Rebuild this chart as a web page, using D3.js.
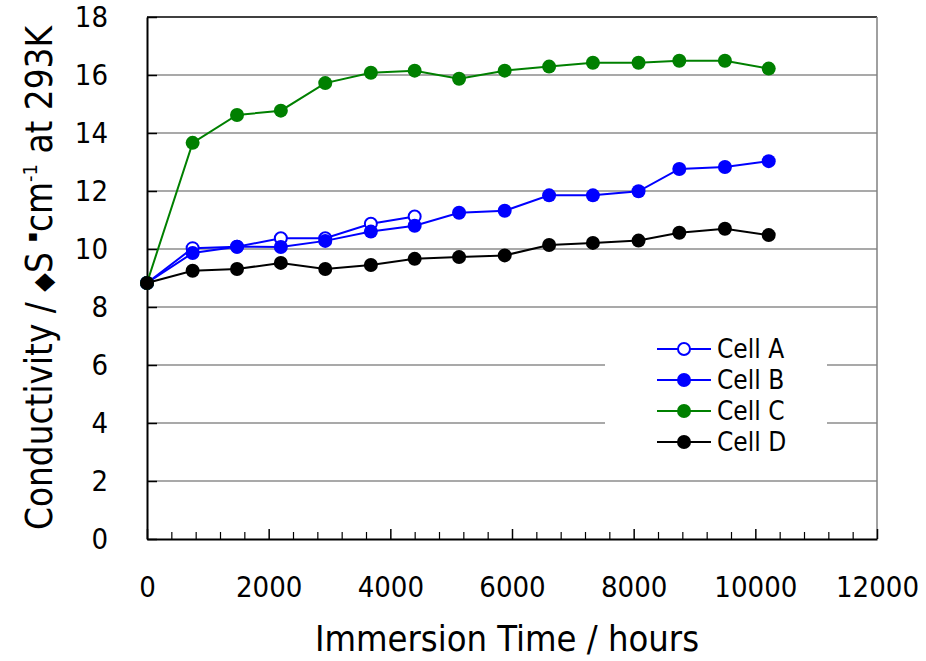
<!DOCTYPE html>
<html>
<head>
<meta charset="utf-8">
<script src="https://cdn.jsdelivr.net/npm/d3@7"></script>
<style>
  body { margin: 0; background: #fff; }
  #chart text { font-family: "DejaVu Sans Condensed", "DejaVu Sans", Verdana, sans-serif; font-stretch: condensed; fill: #000; }
</style>
</head>
<body>
<div id="chart"></div>
<script>
// immersion time (hours) for each measurement
const hours = [0, 750, 1480, 2200, 2930, 3680, 4400, 5130, 5880, 6610, 7330, 8080, 8750, 9500, 10220];

// conductivity values
const cellA = [8.83, 10.03, 10.08, 10.37, 10.37, 10.87, 11.12];
const cellB = [8.83, 9.86, 10.08, 10.07, 10.28, 10.6, 10.8, 11.25, 11.32, 11.85, 11.85, 11.99, 12.76, 12.83, 13.03];
const cellC = [8.83, 13.66, 14.62, 14.77, 15.72, 16.08, 16.15, 15.87, 16.15, 16.29, 16.42, 16.42, 16.49, 16.49, 16.22];
const cellD = [8.83, 9.25, 9.31, 9.52, 9.31, 9.45, 9.66, 9.72, 9.78, 10.14, 10.21, 10.29, 10.56, 10.7, 10.48];

const seriesNames = ["Cell A", "Cell B", "Cell C", "Cell D"];
const xTicks = [0, 2000, 4000, 6000, 8000, 10000, 12000];
const yTicks = [0, 2, 4, 6, 8, 10, 12, 14, 16, 18];

var width = 926, height = 661;
var margin = {top: 17, right: 49, bottom: 122, left: 147};
var innerwidth = width - margin.left - margin.right;
var innerheight = height - margin.top - margin.bottom;

const svg = d3.select("#chart")
    .append("svg")
    .attr("width", width)
    .attr("height", height);

const g = svg.append("g")
    .attr("transform", "translate(" + margin.left + "," + margin.top + ")");

const xscale = d3.scaleLinear().domain([0, 12000]).range([0, innerwidth]);
const yscale = d3.scaleLinear().domain([0, 18]).range([innerheight, 0]);

// gridlines
g.append("g")
    .selectAll("line")
    .data(yTicks.filter(d => d > 0 && d < 18))
    .enter()
    .append("line")
    .attr("x1", 0)
    .attr("x2", innerwidth)
    .attr("y1", d => yscale(d))
    .attr("y2", d => yscale(d))
    .attr("stroke", "#8c8c8c")
    .attr("stroke-width", 1.3);

// plot frame: top black, right grey
g.append("line")
    .attr("x1", 0).attr("x2", innerwidth)
    .attr("y1", yscale(18)).attr("y2", yscale(18))
    .attr("stroke", "#000").attr("stroke-width", 1.5);
g.append("line")
    .attr("x1", innerwidth).attr("x2", innerwidth)
    .attr("y1", 0).attr("y2", innerheight)
    .attr("stroke", "#808080").attr("stroke-width", 1.5);

// minor x ticks every 400 h
const minor = d3.range(400, 12000, 400).filter(d => d % 2000 !== 0);
g.append("g")
    .attr("transform", "translate(0," + innerheight + ")")
    .call(d3.axisBottom(xscale).tickValues(minor).tickSize(-7).tickFormat(""))
    .call(a => a.select(".domain").remove())
    .selectAll(".tick line").attr("stroke", "#000").attr("stroke-width", 1.2);

const xaxisG = g.append("g")
    .attr("transform", "translate(0," + innerheight + ")")
    .call(d3.axisBottom(xscale).tickValues(xTicks).tickSize(-10).tickSizeOuter(0)
        .tickPadding(37).tickFormat(d3.format("d")));
xaxisG.select(".domain").attr("stroke", "#000").attr("stroke-width", 2);
xaxisG.selectAll(".tick line").attr("stroke", "#000").attr("stroke-width", 1.5);
xaxisG.selectAll("text").attr("font-size", "29px").attr("fill", "#000");

const yaxisG = g.append("g")
    .call(d3.axisLeft(yscale).tickValues(yTicks).tickSize(-10).tickSizeOuter(0).tickPadding(39));
yaxisG.select(".domain").attr("stroke", "#000").attr("stroke-width", 2);
yaxisG.selectAll(".tick line").attr("stroke", "#000").attr("stroke-width", 1.5);
yaxisG.selectAll("text").attr("font-size", "29px").attr("fill", "#000");

// axis titles
svg.append("text")
    .attr("x", 507)
    .attr("y", 651)
    .attr("text-anchor", "middle")
    .attr("font-size", "36px")
    .text("Immersion Time / hours");

const ylab = svg.append("text")
    .attr("transform", "translate(52," + (margin.top + innerheight / 2) + ") rotate(-90)")
    .attr("text-anchor", "middle")
    .attr("font-size", "36.5px");
ylab.append("tspan").text("Conductivity / ");
ylab.append("tspan").attr("font-size", "27px").text("\u25C6");
ylab.append("tspan").text("S ");
ylab.append("tspan").attr("font-size", "16px").attr("dy", "-15").text("\u25AA");
ylab.append("tspan").attr("dy", "15").text("cm");
ylab.append("tspan").attr("font-size", "20px").attr("dy", "-15").text("-1");
ylab.append("tspan").attr("dy", "15").text(" at 293K");

// series
const series = [
    {name: seriesNames[0], values: cellA, color: "#0000ff", open: true},
    {name: seriesNames[1], values: cellB, color: "#0000ff", open: false},
    {name: seriesNames[2], values: cellC, color: "#008000", open: false},
    {name: seriesNames[3], values: cellD, color: "#000000", open: false}
];

const line = d3.line()
    .x((d, i) => xscale(hours[i]))
    .y(d => yscale(d));

series.forEach(s => {
    const sg = g.append("g");
    sg.append("path")
        .attr("d", line(s.values))
        .attr("fill", "none")
        .attr("stroke", s.color)
        .attr("stroke-width", 2);
    sg.selectAll("circle")
        .data(s.values)
        .enter()
        .append("circle")
        .attr("cx", (d, i) => xscale(hours[i]))
        .attr("cy", d => yscale(d))
        .attr("r", s.open ? 6 : 7)
        .attr("fill", s.open ? "#fff" : s.color)
        .attr("stroke", s.color)
        .attr("stroke-width", s.open ? 2 : 0);
});

// legend
const legend = svg.append("g");
legend.append("rect")
    .attr("x", 605).attr("y", 334)
    .attr("width", 222).attr("height", 124)
    .attr("fill", "#fff");

const rows = legend.selectAll(".row")
    .data(series)
    .enter()
    .append("g")
    .attr("class", "row")
    .attr("transform", (d, i) => "translate(0," + (349 + i * 31) + ")");
rows.append("line")
    .attr("x1", 657).attr("x2", 711)
    .attr("stroke", d => d.color)
    .attr("stroke-width", 2);
rows.append("circle")
    .attr("cx", 684)
    .attr("r", d => d.open ? 6 : 7)
    .attr("fill", d => d.open ? "#fff" : d.color)
    .attr("stroke", d => d.color)
    .attr("stroke-width", d => d.open ? 2 : 0);
rows.append("text")
    .attr("x", 717)
    .attr("dy", "0.36em")
    .attr("font-size", "26px")
    .text(d => d.name);
</script>
</body>
</html>
